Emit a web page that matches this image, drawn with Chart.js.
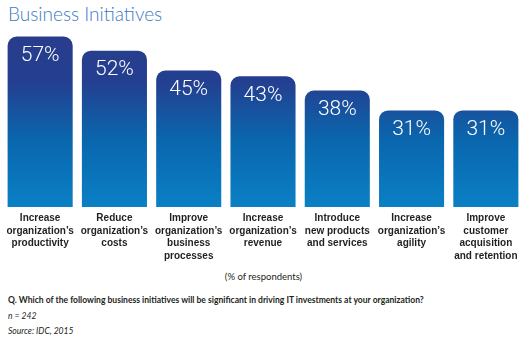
<!DOCTYPE html>
<html>
<head>
<meta charset="utf-8">
<script src="https://cdn.jsdelivr.net/npm/chart.js@4.4.1/dist/chart.umd.min.js"></script>
<style>
  html, body { margin: 0; padding: 0; background: #fff; }
  body { width: 529px; height: 342px; position: relative; overflow: hidden; font-family: Lato, 'Liberation Sans', sans-serif; color: #231f20; }
  .title { position: absolute; left: 8px; top: 2px; font-size: 19px; font-weight: 300; color: #3d7cc4; white-space: nowrap; }
  .chart-wrap { position: absolute; left: 0; top: 28px; width: 529px; height: 240px; }
  .unit { position: absolute; left: 0; width: 527px; top: 271px; text-align: center; font-size: 9.5px; }
  .note { position: absolute; left: 8px; font-size: 8.55px; white-space: nowrap; }
  .note.q { top: 295px; font-weight: 700; }
  .note.n { top: 311px; font-style: italic; }
  .note.src { top: 326px; font-style: italic; }
</style>
</head>
<body>
<div class="title">Business Initiatives</div>
<div class="chart-wrap"><canvas id="initChart"></canvas></div>
<div class="unit">(% of respondents)</div>
<div class="note q">Q. Which of the following business initiatives will be significant in driving IT investments at your organization?</div>
<div class="note n">n = 242</div>
<div class="note src">Source: IDC, 2015</div>
<script>
// categories shown under each bar
const initiatives = [
  ['Increase', 'organization\u2019s', 'productivity'],
  ['Reduce', 'organization\u2019s', 'costs'],
  ['Improve', 'organization\u2019s', 'business', 'processes'],
  ['Increase', 'organization\u2019s', 'revenue'],
  ['Introduce', 'new products', 'and services'],
  ['Increase', 'organization\u2019s', 'agility'],
  ['Improve', 'customer', 'acquisition', 'and retention'],
];
// share of respondents, %
const respondentPct = [57, 52, 45, 43, 38, 31, 31];

const Y_MIN = -3;
const Y_MAX = 60;

// white percentage inside the top of each bar
const barValueLabels = {
  id: 'barValueLabels',
  afterDatasetsDraw(chart) {
    const { ctx } = chart;
    const meta = chart.getDatasetMeta(0);
    ctx.save();
    ctx.fillStyle = '#ffffff';
    ctx.font = '300 21px Roboto, "Liberation Sans", sans-serif';
    ctx.textAlign = 'center';
    ctx.textBaseline = 'middle';
    meta.data.forEach((bar, i) => {
      ctx.fillText(respondentPct[i] + '%', bar.x, bar.y + 19);
    });
    ctx.restore();
  },
};

function barGradient(context) {
  const { chart } = context;
  const area = chart.chartArea;
  if (!area) return '#1a5aa5';
  const g = chart.ctx.createLinearGradient(0, area.top, 0, area.bottom);
  g.addColorStop(0, '#2a3c8c');
  g.addColorStop(0.3, '#243f90');
  g.addColorStop(0.62, '#0a66ad');
  g.addColorStop(1, '#0a80c5');
  return g;
}

new Chart(document.getElementById('initChart'), {
  type: 'bar',
  data: {
    labels: initiatives,
    datasets: [{
      data: respondentPct,
      base: Y_MIN,
      backgroundColor: barGradient,
      borderRadius: { topLeft: 9, topRight: 9, bottomLeft: 0, bottomRight: 0 },
      borderSkipped: 'bottom',
      categoryPercentage: 0.876,
      barPercentage: 1,
    }],
  },
  options: {
    responsive: true,
    maintainAspectRatio: false,
    animation: false,
    layout: { padding: { left: 3, right: 6, top: 0, bottom: 0 } },
    plugins: {
      legend: { display: false },
      tooltip: { enabled: false },
    },
    scales: {
      x: {
        grid: { display: false, drawTicks: false },
        border: { display: false },
        ticks: {
          color: '#231f20',
          padding: 5,
          maxRotation: 0,
          autoSkip: false,
          font: { family: "'Liberation Sans', Arial, sans-serif", size: 10, weight: 'bold', lineHeight: 1.25 },
        },
        afterFit: s => { s.height = 61; },
      },
      y: {
        display: false,
        min: Y_MIN,
        max: Y_MAX,
      },
    },
  },
  plugins: [barValueLabels],
});
</script>
</body>
</html>
